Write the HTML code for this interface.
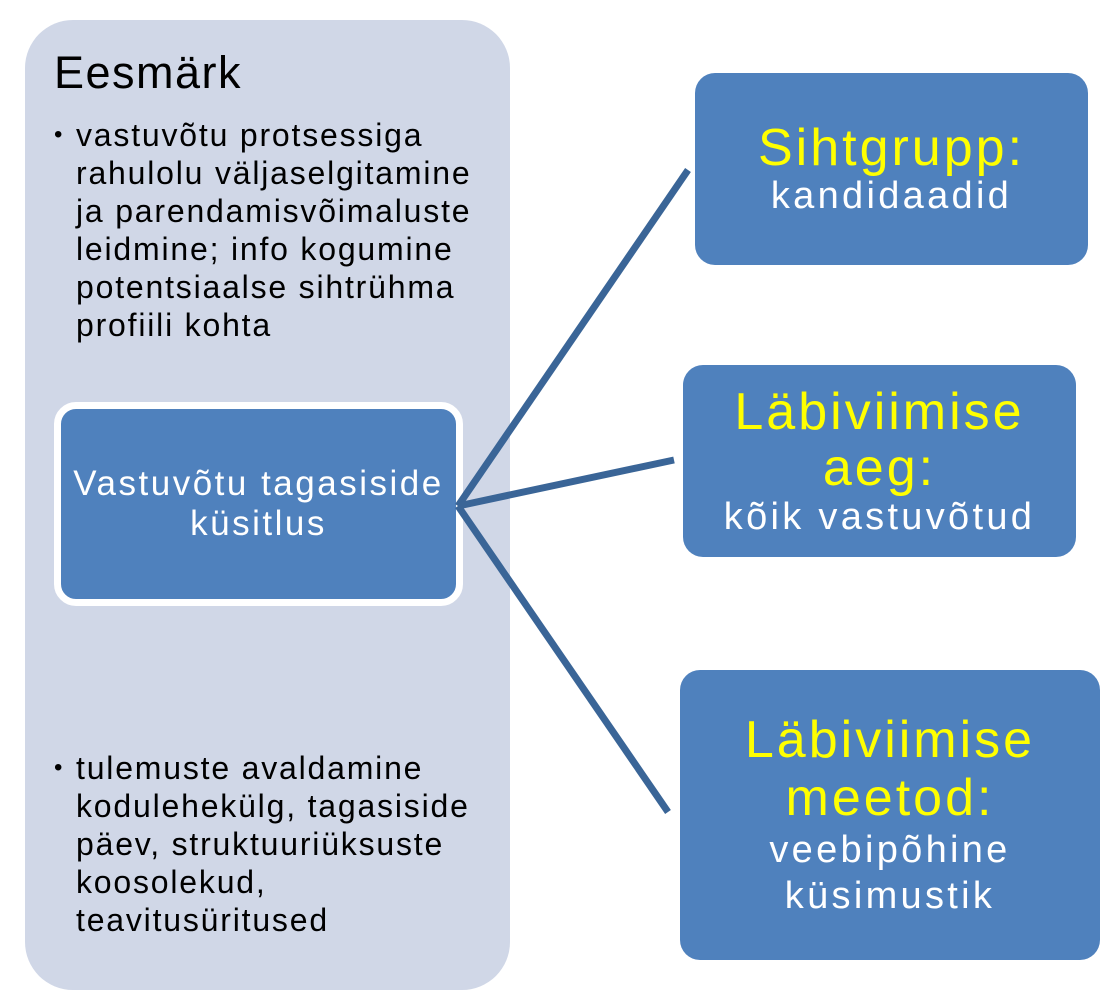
<!DOCTYPE html>
<html><head><meta charset="utf-8"><style>
body{margin:0;width:1114px;height:1000px;background:#fff;position:relative;overflow:hidden;font-family:"Liberation Sans",Arial,sans-serif}
.panel{position:absolute;left:25px;top:20px;width:485px;height:970px;background:#d0d7e7;border-radius:48px}
.box{position:absolute;background:#4f81bd;border-radius:20px;color:#fff;text-align:center;display:flex;flex-direction:column;justify-content:center;align-items:center}
.y{color:#ffff00;font-size:52px;letter-spacing:3px}
.s{font-size:38px;letter-spacing:3.3px}
.t{position:absolute;left:54px;top:47px;font-size:45px;letter-spacing:1.5px;color:#000}
ul{position:absolute;margin:0;padding:0;list-style:none;font-size:32px;line-height:38px;letter-spacing:1.8px;color:#000;white-space:nowrap}
li{position:relative;padding-left:22px}
li:before{content:"•";position:absolute;left:0;top:0;font-size:24px}
</style></head><body>
<div class="panel"></div>
<div class="t">Eesmärk</div>
<ul style="left:54px;top:116px"><li>vastuvõtu protsessiga<br>rahulolu väljaselgitamine<br>ja parendamisvõimaluste<br>leidmine; info kogumine<br>potentsiaalse sihtrühma<br>profiili kohta</li></ul>
<ul style="left:54px;top:749px"><li>tulemuste avaldamine<br>kodulehekülg, tagasiside<br>päev, struktuuriüksuste<br>koosolekud,<br>teavitusüritused</li></ul>
<div class="box" style="left:54px;top:402px;width:395px;height:190px;border:7px solid #fff;border-radius:22px;font-size:35px;line-height:40px;letter-spacing:2.5px">Vastuvõtu tagasiside<br>küsitlus</div>
<svg style="position:absolute;left:0;top:0" width="1114" height="1000"><g stroke="#3a6597" stroke-width="7" fill="none"><line x1="458" y1="506" x2="688" y2="170"/><line x1="458" y1="506" x2="674" y2="460"/><line x1="458" y1="506" x2="668" y2="812"/></g></svg>
<div class="box" style="left:695px;top:73px;width:393px;height:192px"><div class="y" style="line-height:54px">Sihtgrupp:</div><div class="s" style="line-height:42px">kandidaadid</div></div>
<div class="box" style="left:683px;top:365px;width:393px;height:192px"><div class="y" style="line-height:56px">Läbiviimise<br>aeg:</div><div class="s" style="line-height:42px">kõik vastuvõtud</div></div>
<div class="box" style="left:680px;top:670px;width:420px;height:290px"><div class="y" style="line-height:58px">Läbiviimise<br>meetod:</div><div class="s" style="line-height:46px">veebipõhine<br>küsimustik</div></div>
</body></html>
